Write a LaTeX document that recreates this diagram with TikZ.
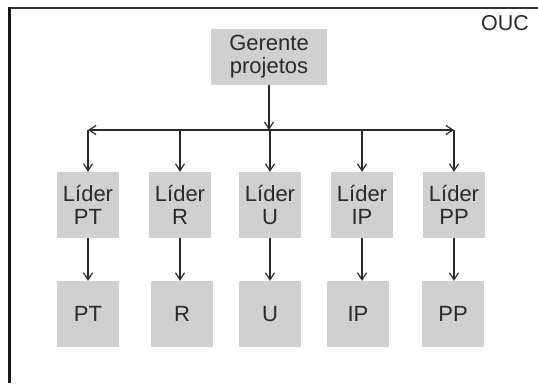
\documentclass[tikz,border=0pt]{standalone}
\usepackage{fontspec}
\setmainfont{Liberation Sans}
\usetikzlibrary{arrows.meta}
\definecolor{boxgray}{HTML}{D0D0D0}
\definecolor{ink}{HTML}{2A2A2A}
\tikzset{
  box/.style={fill=boxgray, draw=none, minimum width=62pt, minimum height=66pt, inner sep=0pt, align=center, text=ink, font=\fontsize{22}{23}\selectfont},
  tip/.tip={Straight Barb[length=7pt,width=9pt,line width=1.2pt]},
  arr/.style={draw=ink, line width=1.3pt, -tip},
  arrboth/.style={draw=ink, line width=1.3pt, tip-tip},
}
\begin{document}
\begin{tikzpicture}[x=1pt,y=-1pt]
\useasboundingbox (0,0) rectangle (538,383);
% frame
\draw[line width=2pt, draw=black!80] (8,7.5) -- (538,7.5);
\draw[line width=3pt, draw=black!90] (9.5,6.5) -- (9.5,383);
\node[anchor=base east, text=ink, font=\fontsize{21.5}{23}\selectfont, inner sep=0pt] (ouc) at (529,30) {OUC};
% top
\node[box, minimum width=116pt, minimum height=56pt] (ger) at (269,57) {Gerente\\projetos};
% leaders
\node[box] (l1) at (88,205) {Líder\\PT};
\node[box] (l2) at (180,205) {Líder\\R};
\node[box] (l3) at (270,205) {Líder\\U};
\node[box] (l4) at (362,205) {Líder\\IP};
\node[box] (l5) at (454,205) {Líder\\PP};
% bottom
\node[box] (b1) at (88,314) {PT};
\node[box] (b2) at (182,314) {R};
\node[box] (b3) at (270,314) {U};
\node[box] (b4) at (358,314) {IP};
\node[box] (b5) at (453,314) {PP};
% bus
\coordinate (busL) at (88,130);
\coordinate (busR) at (454,130);
\coordinate (busM) at (269,130);
\draw[arr] (ger.south) -- (busM);
\draw[arrboth] (busL) -- (busR);
\foreach \i in {1,...,5}{
  \draw[arr] (l\i.north |- busL) -- (l\i.north);
}
\draw[arr] (l1.south) -- (b1.north);
\draw[arr] (l2.south) -- (l2.south |- b2.north);
\draw[arr] (l3.south) -- (b3.north);
\draw[arr] (l4.south) -- (l4.south |- b4.north);
\draw[arr] (l5.south) -- (l5.south |- b5.north);
\end{tikzpicture}
\end{document}
